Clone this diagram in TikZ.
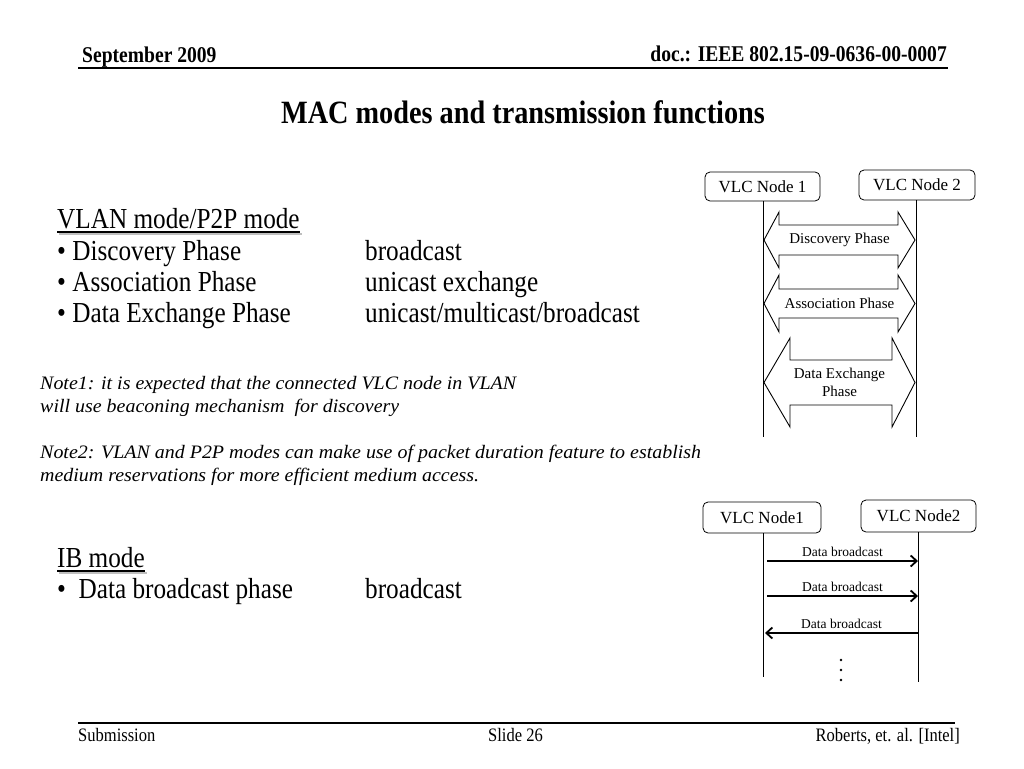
\documentclass[tikz,border=0pt]{standalone}
\usepackage{fontspec}
\setmainfont{Liberation Serif}[FakeStretch=0.87]
\newfontfamily\diagfont{Liberation Serif}
\newfontfamily\notefont{Liberation Serif}[FakeStretch=1.05]
\usetikzlibrary{arrows.meta}
\newcommand{\fsz}[1]{\fontsize{#1}{1.2\dimexpr#1pt\relax}\selectfont}
\tikzset{
  slidetext/.style={anchor=base west, inner sep=0pt},
  vlcbox/.style={draw, line width=0.8pt, rounded corners=5pt, inner sep=0pt,
    font=\diagfont\fsz{17}},
  lifeline/.style={line width=0.9pt},
  phasearrow/.style={draw, line width=0.9pt, line join=miter},
  phaselabel/.style={font=\diagfont\fsz{15}, align=center, inner sep=0pt},
  msgarrow/.style={line width=1.8pt, -{Straight Barb[length=6pt,width=11pt,line width=1.8pt]}},
  msglabel/.style={font=\diagfont\fsz{13.5}, above=3pt, inner sep=0pt},
  uline/.style={line width=1.2pt},
  ushadow/.style={line width=1.6pt, black!25}
}
\begin{document}
\begin{tikzpicture}[x=1pt, y=-1pt]
    \useasboundingbox (0,0) rectangle (1024,768);
    % header and footer
    \draw[line width=1.8pt] (78,68) -- (948,68);
    \node[slidetext, font=\bfseries\fsz{22.5}] (date) at (82,63) {September 2009};
    \node[slidetext, anchor=base east, font=\bfseries\fsz{22.5}] (doc) at (947,61) {doc.: IEEE 802.15-09-0636-00-0007};
    \draw[line width=1.4pt] (78,723) -- (955,723);
    \node[slidetext, font=\fsz{19}] (sub) at (78,741) {Submission};
    \node[slidetext, font=\fsz{19}] (slide) at (488,741) {Slide 26};
    \node[slidetext, anchor=base east, font=\fsz{19}] (auth) at (960,741) {Roberts, et. al. [Intel]};
    % title
    \node[slidetext, anchor=base, font=\bfseries\fsz{32.5}] (title) at (523,123) {MAC modes and transmission functions};
    % VLAN mode/P2P mode
    \node[slidetext, font=\fsz{29}] (vlan) at (57,228) {VLAN mode/P2P mode};
    \draw[ushadow] ([xshift=2pt,yshift=-6pt]vlan.base west) -- ([xshift=2pt,yshift=-6pt]vlan.base east);
    \draw[uline] ([yshift=-4pt]vlan.base west) -- ([yshift=-4pt]vlan.base east);
    \node[slidetext, font=\fsz{29}] (d1) at (57,260) {• Discovery Phase};
    \node[slidetext, font=\fsz{29}] (a1) at (57,291) {• Association Phase};
    \node[slidetext, font=\fsz{29}] (x1) at (57,322) {• Data Exchange Phase};
    \node[slidetext, font=\fsz{29}] (d2) at (365,260) {broadcast};
    \node[slidetext, font=\fsz{29}] (a2) at (365,291) {unicast exchange};
    \node[slidetext, font=\fsz{29}] (x2) at (365,322) {unicast/multicast/broadcast};
    % notes
    \node[slidetext, font=\notefont\itshape\fsz{19}] (note1a) at (40,389) {Note1: it is expected that the connected VLC node in VLAN};
    \node[slidetext, font=\notefont\itshape\fsz{19}] (note1b) at (40,412) {will use beaconing mechanism\ \ for discovery};
    \node[slidetext, font=\notefont\itshape\fsz{19}] (note2a) at (40,458) {Note2: VLAN and P2P modes can make use of packet duration feature to establish};
    \node[slidetext, font=\notefont\itshape\fsz{19}] (note2b) at (40,481) {medium reservations for more efficient medium access.};
    % IB mode
    \node[slidetext, font=\fsz{29}] (ib) at (57,567) {IB mode\ };
    \draw[ushadow] ([xshift=2pt,yshift=-6pt]ib.base west) -- ([xshift=2pt,yshift=-6pt]ib.base east);
    \draw[uline] ([yshift=-4pt]ib.base west) -- ([yshift=-4pt]ib.base east);
    \node[slidetext, font=\fsz{29}] (ib1) at (57,598) {•\ \ Data broadcast phase};
    \node[slidetext, font=\fsz{29}] (ib2) at (365,598) {broadcast};
    % VLAN sequence
    \node[vlcbox, minimum width=115pt, minimum height=29pt] (n1) at (762.5,186.5) {VLC Node 1};
    \node[vlcbox, minimum width=116pt, minimum height=30pt] (n2) at (917,185) {VLC Node 2};
    \coordinate (n1end) at (763,437);
    \coordinate (n2end) at (916,437);
    \draw[lifeline] (n1.south -| n1end) -- (n1end);
    \draw[lifeline] (n2.south -| n2end) -- (n2end);
    \foreach \yc/\hh/\hs/\bl/\br/\lbl [count=\i] in
      {240/28/15/779/898/{Discovery Phase},
       303.5/28.5/14.5/779/898/{Association Phase},
       382.5/44.5/22.5/790/892/{Data Exchange\\Phase}}{
      \draw[phasearrow] (764,\yc) -- (\bl,\yc-\hh) -- (\bl,\yc-\hs) -- (\br,\yc-\hs)
        -- (\br,\yc-\hh) -- (915,\yc) -- (\br,\yc+\hh) -- (\br,\yc+\hs)
        -- (\bl,\yc+\hs) -- (\bl,\yc+\hh) -- cycle;
      \node[phaselabel] (ph\i) at (839.5,\yc) {\lbl};
    }
    % IB sequence
    \node[vlcbox, minimum width=118pt, minimum height=31pt] (n3) at (762,517.5) {VLC Node1};
    \node[vlcbox, minimum width=115pt, minimum height=32pt] (n4) at (918.5,516) {VLC Node2};
    \coordinate (n3end) at (763,677);
    \coordinate (n4end) at (918,682);
    \draw[lifeline] (n3.south -| n3end) -- (n3end);
    \draw[lifeline] (n4.south -| n4end) -- (n4end);
    \coordinate (m1s) at (767,561);  \coordinate (m1e) at (918,561);
    \coordinate (m2s) at (767,596);  \coordinate (m2e) at (918,596);
    \coordinate (m3s) at (918,633);  \coordinate (m3e) at (765,633);
    \draw[msgarrow] (m1s) -- node[msglabel] (l1) {Data broadcast} (m1e);
    \draw[msgarrow] (m2s) -- node[msglabel] (l2) {Data broadcast} (m2e);
    \draw[msgarrow] (m3s) -- node[msglabel] (l3) {Data broadcast} (m3e);
    \foreach \y in {660,670,680}
      \fill (841,\y) circle (1.4pt);
\end{tikzpicture}
\end{document}
